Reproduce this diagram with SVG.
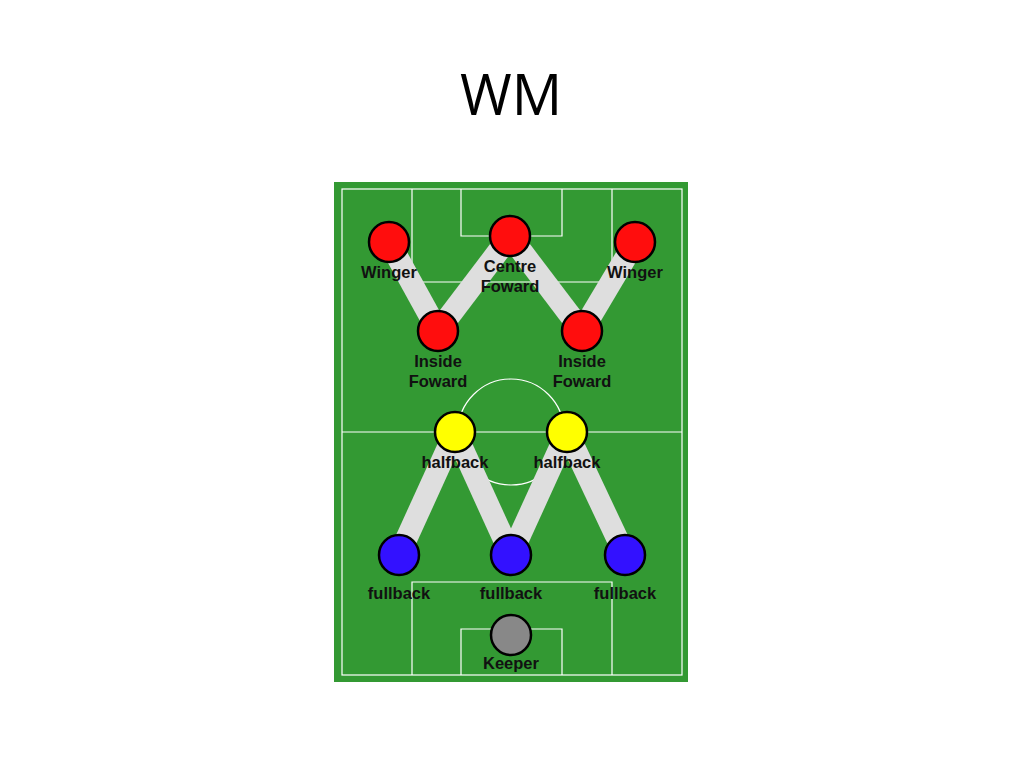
<svg xmlns="http://www.w3.org/2000/svg" width="1024" height="768" viewBox="0 0 1024 768">
<style>
.ln{fill:none;stroke:#ffffff;stroke-width:1.2}
.cn{stroke:#dedede;stroke-width:22;stroke-linecap:butt}
.p{stroke:#000;stroke-width:2.5}
.red{fill:#ff0d0d}
.yel{fill:#ffff00}
.blu{fill:#3311ff}
.gry{fill:#888888}
.lb{font-family:"Liberation Sans",Arial,sans-serif;font-weight:bold;font-size:16.5px;fill:#111;text-anchor:middle}
</style>
<rect width="1024" height="768" fill="#ffffff"/>
<text x="511" y="115" font-family="'Open Sans',sans-serif" font-size="56" fill="#000" text-anchor="middle">WM</text>
<g id="pitch">
<rect x="334" y="182" width="354" height="500" fill="#339933"/>
<rect class="ln" x="342" y="189" width="340" height="486"/>
<line class="ln" x1="342" y1="432" x2="682" y2="432"/>
<circle class="ln" cx="511" cy="432" r="53"/>
<polyline class="ln" points="412,189 412,282 612,282 612,189"/>
<polyline class="ln" points="461,189 461,236 562,236 562,189"/>
<polyline class="ln" points="412,675 412,582 612,582 612,675"/>
<polyline class="ln" points="461,675 461,629 562,629 562,675"/>
</g>
<g id="connectors">
<line class="cn" x1="389" y1="242" x2="438" y2="331"/>
<line class="cn" x1="438" y1="331" x2="510" y2="236"/>
<line class="cn" x1="510" y1="236" x2="582" y2="331"/>
<line class="cn" x1="582" y1="331" x2="635" y2="242"/>
<line class="cn" x1="455" y1="432" x2="399" y2="555"/>
<line class="cn" x1="455" y1="432" x2="511" y2="555"/>
<line class="cn" x1="567" y1="432" x2="511" y2="555"/>
<line class="cn" x1="567" y1="432" x2="625" y2="555"/>
</g>
<g id="winger-left"><circle class="p red" cx="389" cy="242" r="20"/><text class="lb" x="389" y="278">Winger</text></g>
<g id="centre-forward"><circle class="p red" cx="510" cy="236" r="20"/><text class="lb" x="510" y="272">Centre</text><text class="lb" x="510" y="292">Foward</text></g>
<g id="winger-right"><circle class="p red" cx="635" cy="242" r="20"/><text class="lb" x="635" y="278">Winger</text></g>
<g id="inside-forward-left"><circle class="p red" cx="438" cy="331" r="20"/><text class="lb" x="438" y="367">Inside</text><text class="lb" x="438" y="387">Foward</text></g>
<g id="inside-forward-right"><circle class="p red" cx="582" cy="331" r="20"/><text class="lb" x="582" y="367">Inside</text><text class="lb" x="582" y="387">Foward</text></g>
<g id="halfback-left"><circle class="p yel" cx="455" cy="432" r="20"/><text class="lb" x="455" y="468">halfback</text></g>
<g id="halfback-right"><circle class="p yel" cx="567" cy="432" r="20"/><text class="lb" x="567" y="468">halfback</text></g>
<g id="fullback-left"><circle class="p blu" cx="399" cy="555" r="20"/><text class="lb" x="399" y="599">fullback</text></g>
<g id="fullback-centre"><circle class="p blu" cx="511" cy="555" r="20"/><text class="lb" x="511" y="599">fullback</text></g>
<g id="fullback-right"><circle class="p blu" cx="625" cy="555" r="20"/><text class="lb" x="625" y="599">fullback</text></g>
<g id="keeper"><circle class="p gry" cx="511" cy="635" r="20"/><text class="lb" x="511" y="669" font-size="17">Keeper</text></g>
</svg>
